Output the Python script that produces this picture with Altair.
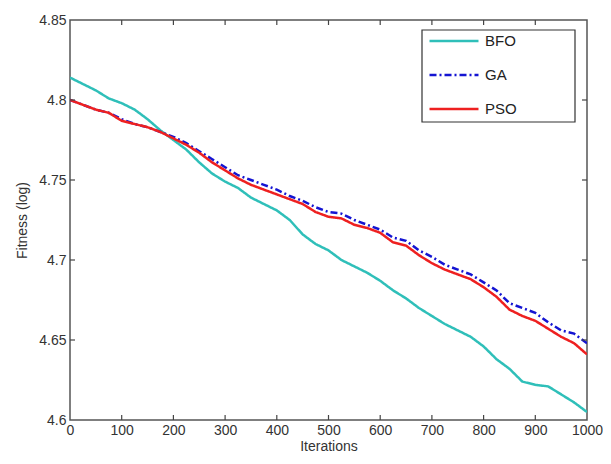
import altair as alt
import pandas as pd

iterations = list(range(0, 1001, 25))

bfo = [4.814, 4.810, 4.806, 4.801, 4.798, 4.794, 4.788, 4.781, 4.775, 4.769,
       4.761, 4.754, 4.749, 4.745, 4.739, 4.735, 4.731, 4.725, 4.716, 4.710,
       4.706, 4.700, 4.696, 4.692, 4.687, 4.681, 4.676, 4.670, 4.665, 4.660,
       4.656, 4.652, 4.646, 4.638, 4.632, 4.624, 4.622, 4.621, 4.616, 4.611,
       4.605]
ga = [4.800, 4.797, 4.794, 4.792, 4.788, 4.785, 4.783, 4.780, 4.777, 4.773,
      4.768, 4.763, 4.758, 4.753, 4.750, 4.747, 4.744, 4.740, 4.737, 4.733,
      4.730, 4.729, 4.725, 4.722, 4.719, 4.714, 4.712, 4.706, 4.702, 4.697,
      4.694, 4.691, 4.686, 4.681, 4.673, 4.670, 4.667, 4.661, 4.656, 4.654,
      4.648]
pso = [4.800, 4.797, 4.794, 4.792, 4.787, 4.785, 4.783, 4.780, 4.776, 4.772,
       4.767, 4.761, 4.756, 4.751, 4.747, 4.744, 4.741, 4.738, 4.735, 4.730,
       4.727, 4.726, 4.722, 4.720, 4.717, 4.711, 4.709, 4.703, 4.698, 4.694,
       4.691, 4.688, 4.683, 4.677, 4.669, 4.665, 4.662, 4.657, 4.652, 4.648,
       4.641]

series_names = ["BFO", "GA", "PSO"]
series_colors = ["#2fbfb9", "#1414d2", "#ee2020"]
x_ticks = [0, 100, 200, 300, 400, 500, 600, 700, 800, 900, 1000]
y_ticks = [4.6, 4.65, 4.7, 4.75, 4.8, 4.85]

rows = []
for name, vals in zip(series_names, [bfo, ga, pso]):
    for it, v in zip(iterations, vals):
        rows.append({"Iteration": it, "Fitness": v, "Series": name})
df = pd.DataFrame(rows)

W, H = 517, 400
FONT = "Liberation Sans"

xs = alt.Scale(domain=[0, 1000], nice=False, zero=False)
ys = alt.Scale(domain=[4.6, 4.85], nice=False, zero=False)

lines = alt.Chart(df).mark_line(strokeWidth=2.5, clip=True).encode(
    x=alt.X("Iteration:Q", scale=xs,
            axis=alt.Axis(values=x_ticks, title="Iterations", tickSize=0,
                          labelPadding=3, titlePadding=2, grid=False, domain=False,
                          labelFlush=False, format="d")),
    y=alt.Y("Fitness:Q", scale=ys,
            axis=alt.Axis(values=y_ticks, title="Fitness (log)", tickSize=0,
                          labelPadding=4, titlePadding=9, grid=False, domain=False,
                          labelFlush=False, format="~g")),
    color=alt.Color("Series:N",
                    scale=alt.Scale(domain=series_names, range=series_colors),
                    legend=alt.Legend(title=None, orient="none", legendX=352, legendY=-11,
                                      symbolType="stroke", symbolSize=2400,
                                      symbolStrokeWidth=2.5, labelFontSize=15,
                                      labelFont=FONT, labelColor="#222",
                                      rowPadding=0, padding=6, labelOffset=5,
                                      labelLimit=300, offset=0)),
    strokeDash=alt.StrokeDash("Series:N",
                              scale=alt.Scale(domain=series_names,
                                              range=[[1, 0], [7, 3, 2, 3], [1, 0]]),
                              legend=None),
)

legend_box = alt.Chart(pd.DataFrame({"k": [0]})).mark_rect(
    fill="white", stroke="#333", strokeWidth=1.2
).encode(x=alt.value(352), x2=alt.value(505), y=alt.value(10), y2=alt.value(102))

xt = pd.DataFrame({"v": x_ticks[1:-1]})
yt = pd.DataFrame({"v": y_ticks[1:-1]})
tick_color = "#444"
xb = alt.Chart(xt).mark_rule(color=tick_color, strokeWidth=1.2).encode(
    x=alt.X("v:Q", scale=xs), y=alt.value(H), y2=alt.value(H - 5))
xtop = alt.Chart(xt).mark_rule(color=tick_color, strokeWidth=1.2).encode(
    x=alt.X("v:Q", scale=xs), y=alt.value(0), y2=alt.value(5))
yl = alt.Chart(yt).mark_rule(color=tick_color, strokeWidth=1.2).encode(
    y=alt.Y("v:Q", scale=ys), x=alt.value(0), x2=alt.value(5))
yr = alt.Chart(yt).mark_rule(color=tick_color, strokeWidth=1.2).encode(
    y=alt.Y("v:Q", scale=ys), x=alt.value(W), x2=alt.value(W - 5))

chart = alt.layer(lines, legend_box, xb, xtop, yl, yr).properties(
    width=W, height=H,
    background="white",
    autosize=alt.AutoSizeParams(type="none"),
    padding={"left": 62, "top": 12, "right": 16, "bottom": 36},
).configure_view(
    stroke="#555", strokeWidth=1.5
).configure_axis(
    labelFont=FONT, titleFont=FONT, labelFontSize=14, titleFontSize=14,
    labelColor="#333", titleColor="#333", titleFontWeight="normal"
)

chart.save("out.html", embed_options={"renderer": "svg", "actions": False})
